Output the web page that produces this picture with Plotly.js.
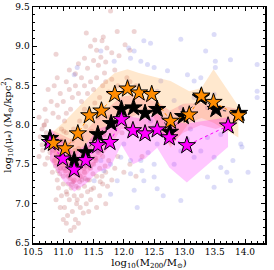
<!DOCTYPE html>
<html><head><meta charset="utf-8">
<script src="https://cdn.plot.ly/plotly-3.0.1.min.js"></script>
<style>body{margin:0;padding:0;background:#fff}#c{width:274px;height:270px}</style>
</head><body><div id="c"></div>
<script>
// Star series (binned medians)
const orangeX = [10.84, 11.03, 11.24, 11.43, 11.63, 11.85, 12.06, 12.25, 12.46, 12.77, 13.08, 13.28, 13.48, 13.89];
const orangeY = [7.77, 7.70, 7.89, 8.12, 8.18, 8.39, 8.46, 8.41, 8.39, 8.05, 8.13, 8.37, 8.29, 8.12];
const orangeHi = [7.92, 8.05, 8.22, 8.37, 8.52, 8.66, 8.71, 8.66, 8.62, 8.56, 8.43, 8.47, 8.71, 8.24];
const orangeLo = [7.50, 7.46, 7.63, 7.80, 7.88, 8.05, 8.09, 8.14, 8.14, 7.71, 8.03, 8.09, 8.03, 7.84];

const blackX = [10.78, 11.18, 11.37, 11.57, 11.79, 11.96, 12.16, 12.35, 12.55, 12.76, 12.98, 13.27, 13.52, 13.90];
const blackY = [7.83, 7.55, 7.65, 7.88, 8.02, 8.20, 8.22, 8.15, 8.20, 7.91, 8.11, 8.35, 8.20, 8.15];
const blackHi = [7.95, 7.80, 7.92, 8.10, 8.25, 8.36, 8.38, 8.33, 8.30, 8.18, 8.27, 8.28, 8.26, 8.20];
const blackLo = [7.55, 7.25, 7.35, 7.55, 7.75, 7.95, 7.95, 7.90, 7.95, 7.75, 7.90, 8.00, 7.95, 8.05];

const magentaX = [10.78, 10.99, 11.18, 11.37, 11.57, 11.77, 11.96, 12.15, 12.35, 12.55, 12.75, 13.04, 13.72];
const magentaY = [7.78, 7.57, 7.43, 7.55, 7.74, 7.78, 8.07, 7.93, 7.89, 7.94, 7.84, 7.74, 7.99];
const magentaHi = [7.95, 7.80, 7.65, 7.75, 7.95, 8.00, 8.18, 8.10, 8.08, 8.14, 8.05, 8.02, 8.10];
const magentaLo = [7.55, 7.30, 7.15, 7.25, 7.40, 7.45, 7.75, 7.50, 7.57, 7.71, 7.46, 7.27, 7.72];

// background scatter: low-mass (red) and high-mass (blue) samples
const redX = [11.78,11.38,11.52,11.64,11.66,11.89,12.17,11.45,11.55,11.72,11.80,12.02,11.35,11.50,11.62,11.70,11.92,12.10,11.25,11.40,11.58,11.85,11.20,11.30,10.88,10.90,11.05,11.10,11.68,12.05,
 10.70,10.75,10.80,10.85,10.90,10.95,11.00,11.05,11.10,11.15,11.20,11.25,11.30,11.35,11.40,11.45,11.50,11.55,11.60,11.65,11.70,11.75,11.80,11.90,12.00,12.10,12.20,11.02,10.72,10.60,10.65,10.92,11.12,11.35,11.52,
 10.60,10.65,10.70,10.72,10.78,10.82,10.85,10.88,10.90,10.92,10.95,10.98,11.00,11.03,11.05,11.08,11.10,11.12,11.15,11.18,11.20,11.22,11.25,11.28,11.30,11.32,11.35,11.38,11.40,11.42,11.45,11.48,11.50,11.55,11.58,11.60,11.65,11.70,11.75,11.80,11.85,11.90,12.00,12.10,12.20,12.30,
 10.92,10.97,11.00,11.02,11.05,11.07,11.10,11.12,11.13,11.15,11.18,11.20,11.22,11.25,11.28,11.30,11.33,11.35,11.38,11.40,11.45,11.50,11.55,11.60,11.65,11.70,11.05,11.00,11.25,10.95,10.88,11.18,11.42,
 10.62,10.68,10.76,10.83,10.97,11.08,11.17,11.27,11.37,11.47,11.57,11.67,11.77,11.87,11.97,12.07,
 10.66,10.74,10.81,10.87,10.93,10.99,11.04,11.09,11.14,11.19,11.24,11.29,11.34,11.39,11.44,11.49,11.54,11.59,11.64,11.69,
 10.69,10.77,10.84,10.91,10.96,11.01,11.06,11.11,11.16,11.21,11.26,11.31,11.36,11.41,11.46,11.53,11.61,11.73,
 10.94,11.01,11.08,11.14,11.21,11.27,11.34,11.43,11.06,11.16,11.23,11.31];
const redY = [9.45,9.17,9.08,9.07,9.12,9.19,9.19,9.00,8.95,8.98,8.92,9.02,8.85,8.82,8.86,8.80,8.88,8.95,8.78,8.72,8.76,8.70,8.65,8.60,8.90,8.60,8.55,8.70,8.66,8.60,
 8.20,8.45,8.30,8.50,8.25,8.40,8.30,8.15,8.45,8.35,8.50,8.40,8.30,8.50,8.40,8.55,8.45,8.60,8.35,8.50,8.55,8.42,8.58,8.50,8.45,8.55,8.50,8.05,8.05,8.10,7.95,8.10,8.20,8.20,8.28,
 7.60,7.75,7.50,7.90,7.65,7.40,7.55,7.85,7.30,7.62,7.45,7.80,7.35,7.55,7.90,7.25,7.65,7.40,7.80,7.30,7.60,7.45,7.70,7.35,7.85,7.55,7.40,7.70,7.30,7.60,7.45,7.80,7.50,7.35,7.65,7.45,7.60,7.40,7.55,7.30,7.45,7.60,7.40,7.50,7.35,7.60,
 7.20,7.10,7.25,6.95,7.15,6.85,7.05,6.66,7.20,6.90,7.10,6.80,7.00,7.20,6.95,7.10,6.88,7.22,7.00,7.15,7.05,7.20,6.95,7.10,7.25,7.00,6.75,6.80,6.75,6.95,7.05,6.70,6.90,
 7.85,8.00,7.70,8.15,7.95,7.50,7.95,8.05,7.98,7.92,8.10,7.88,8.10,8.00,7.90,7.95,
 7.68,7.58,7.78,7.48,7.72,7.52,7.42,7.75,7.50,7.68,7.38,7.52,7.62,7.48,7.72,7.38,7.55,7.68,7.35,7.48,
 8.00,7.82,7.68,7.42,7.58,7.92,7.68,7.32,7.58,7.22,7.48,7.62,7.32,7.52,7.18,7.58,7.28,7.22,
 7.38,7.45,7.35,7.25,7.38,7.28,7.45,7.30,7.12,7.28,7.05,7.30];

const blueX = [12.94,13.49,13.35,13.51,13.76,14.20,14.20,14.20,13.93,13.95,13.60,13.76,13.38,13.49,12.94,12.55,12.50,12.22,12.33,12.17,11.78,11.89,12.11,12.30,12.28,12.11,12.50,12.83,13.16,13.27,13.38,13.60,13.49,12.55,12.94,13.05,12.72,12.61,12.50,12.17,12.33,12.44,12.08,11.62,11.84,12.11,12.28,12.39,12.55,12.83,12.94,13.16,13.27,13.05,13.38,13.49,13.51,13.16,12.44,12.17,12.50,12.72,12.00,11.78,11.62,11.95,11.51,11.67,11.56,11.34,11.18,11.23,13.80,14.05,13.65,12.65,12.40,13.10,13.70,11.95];
const blueY = [9.09,9.15,8.94,8.81,8.83,8.77,8.43,8.35,7.76,7.72,7.46,7.29,7.34,7.21,7.04,7.19,7.34,6.95,7.29,7.17,7.12,7.29,7.38,7.42,7.55,7.55,7.50,7.50,7.59,7.67,7.84,7.88,7.59,7.76,7.67,7.82,8.69,8.56,8.73,8.94,9.07,9.04,8.98,8.94,8.81,8.85,8.81,8.77,8.43,8.31,8.22,8.56,8.60,8.64,8.22,8.39,8.73,8.35,8.05,7.93,7.97,7.80,7.76,7.50,7.55,7.59,7.29,7.42,7.67,7.50,8.64,8.73,7.55,7.40,8.20,7.10,7.65,7.95,7.40,8.30];

function band(x, hi, lo, color) {
  return {x: x.concat(x.slice().reverse()), y: hi.concat(lo.slice().reverse()),
    type: 'scatter', mode: 'lines', fill: 'toself', fillcolor: color,
    line: {width: 0}, hoverinfo: 'skip', showlegend: false};
}
function stars(x, y, color, lineColor) {
  return {x: x, y: y, type: 'scatter', mode: 'lines+markers',
    line: {color: lineColor, width: 1, dash: 'dot'},
    marker: {symbol: 'star', size: 13, color: color, line: {color: '#000', width: 1}},
    showlegend: false};
}

const data = [
  {x: redX, y: redY, type: 'scatter', mode: 'markers',
   marker: {size: 5, color: 'rgba(190,90,90,0.26)', line: {width: 0}}, showlegend: false},
  {x: blueX, y: blueY, type: 'scatter', mode: 'markers',
   marker: {size: 5, color: 'rgba(110,110,225,0.24)', line: {width: 0}}, showlegend: false},
  band(orangeX, orangeHi, orangeLo, 'rgba(255,165,60,0.25)'),
  band(blackX, blackHi, blackLo, 'rgba(255,70,90,0.2)'),
  band(magentaX, magentaHi, magentaLo, 'rgba(255,0,255,0.22)'),
  stars(blackX, blackY, '#000000', '#333333'),
  stars(magentaX, magentaY, '#ff00ff', '#ff00ff'),
  stars(orangeX, orangeY, '#ff8c00', '#ff8c00')
];

const axisCommon = {
  showgrid: false, zeroline: false, showline: true, linecolor: '#000', linewidth: 1.5,
  mirror: 'allticks', ticks: 'inside', ticklen: 4, tickwidth: 1, tickcolor: '#000',
  tickfont: {family: 'DejaVu Serif', size: 9, color: '#000'}
};

const layout = {
  width: 274, height: 270,
  margin: {l: 33, r: 9, t: 7, b: 27},
  paper_bgcolor: '#fff', plot_bgcolor: '#fff',
  xaxis: Object.assign({}, axisCommon, {
    range: [10.5, 14.33], tick0: 10.5, dtick: 0.5, tickformat: '.1f',
    minor: {ticks: 'inside', dtick: 0.1, ticklen: 2, tickcolor: '#000'},
    title: {text: 'log<sub>10</sub>(M<sub>200</sub>/M<sub>⊙</sub>)', font: {family: 'DejaVu Serif', size: 10, color: '#000'}, standoff: 2}
  }),
  yaxis: Object.assign({}, axisCommon, {
    range: [6.5, 9.5], tick0: 6.5, dtick: 0.5, tickformat: '.1f',
    minor: {ticks: 'inside', dtick: 0.1, ticklen: 2, tickcolor: '#000'},
    title: {text: 'log<sub>10</sub>(μ<sub>*</sub>) (M<sub>⊙</sub>/kpc<sup>2</sup>)', font: {family: 'DejaVu Serif', size: 10, color: '#000'}, standoff: 2}
  }),
  showlegend: false
};

Plotly.newPlot('c', data, layout, {staticPlot: true, displayModeBar: false});
</script></body></html>
